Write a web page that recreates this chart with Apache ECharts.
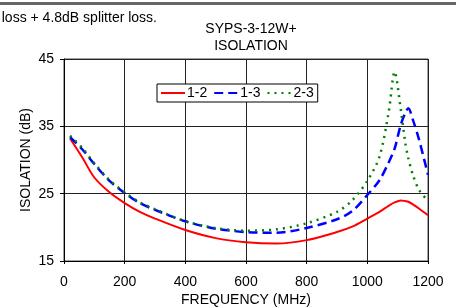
<!DOCTYPE html>
<html><head><meta charset="utf-8">
<script src="https://cdn.jsdelivr.net/npm/echarts@6/dist/echarts.min.js"></script>
<style>html,body{margin:0;padding:0;background:#fff}#c{width:456px;height:308px}</style>
</head><body><div id="c"></div>
<script>
const freqs = [20, 60, 100, 150, 200, 250, 300, 400, 500, 600, 700, 800, 900, 950, 1000, 1040, 1070, 1090, 1110, 1125, 1135, 1150, 1170, 1200];
const iso12 = [33.2, 30.4, 27.4, 25.2, 23.6, 22.3, 21.3, 19.6, 18.4, 17.8, 17.6, 18.1, 19.3, 20.1, 21.3, 22.3, 23.2, 23.7, 24.0, 23.9, 23.8, 23.4, 22.8, 21.8];
const iso13 = [33.4, 31.6, 29.4, 26.9, 25.1, 23.6, 22.6, 20.9, 19.8, 19.3, 19.2, 19.9, 21.2, 22.4, 24.8, 27.0, 29.6, 31.7, 35.2, 37.0, 37.7, 36.0, 33.1, 27.8];
const iso23 = [33.6, 31.8, 29.5, 27.0, 25.2, 23.7, 22.7, 20.9, 19.9, 19.5, 19.7, 20.6, 22.3, 24.0, 26.9, 30.5, 37.0, 43.1, 37.6, 32.6, 30.3, 27.8, 25.6, 23.9];
const seriesNames = ['1-2', '1-3', '2-3'];
const xTicks = [0, 200, 400, 600, 800, 1000, 1200];
const yTicks = [15, 25, 35, 45];

const pair = v => freqs.map((f, i) => [f, v[i]]);
const FONT = 'Liberation Sans, Arial, sans-serif';
const FS = 14;
const chart = echarts.init(document.getElementById('c'), null, {renderer: 'canvas'});
chart.setOption({
  animation: false,
  backgroundColor: '#fff',
  textStyle: {fontFamily: FONT},
  title: {
    text: 'SYPS-3-12W+\nISOLATION',
    left: 246, textAlign: 'center', top: 16,
    textStyle: {fontSize: FS, fontWeight: 'normal', color: '#000', lineHeight: 17, fontFamily: FONT}
  },
  graphic: [
    {type: 'rect', shape: {x: 0, y: 2, width: 456, height: 3}, style: {fill: '#666'}},
    {type: 'text', style: {text: 'loss + 4.8dB splitter loss.', x: 157, y: 18, align: 'right', verticalAlign: 'middle', font: FS + 'px ' + FONT, fill: '#000'}}
  ],
  legend: {
    left: 157, top: 84,
    padding: [2, 4, 2, 3],
    itemGap: 6, itemWidth: 24, itemHeight: 14,
    borderColor: '#000', borderWidth: 1, backgroundColor: '#fff',
    itemStyle: {opacity: 0},
    textStyle: {fontSize: FS, color: '#000', fontFamily: FONT, padding: [0, 0, 0, -3]},
    data: seriesNames
  },
  grid: {left: 64, right: 28, top: 59, bottom: 47, show: true, borderColor: '#444', borderWidth: 1, outerBoundsMode: 'none', containLabel: false},
  xAxis: {
    type: 'value', min: 0, max: 1200, interval: 200,
    name: 'FREQUENCY (MHz)', nameLocation: 'middle', nameGap: 32, nameMoveOverlap: false,
    nameTextStyle: {fontSize: FS, color: '#000', fontFamily: FONT},
    axisLine: {lineStyle: {color: '#000'}},
    axisTick: {show: true, length: 3, lineStyle: {color: '#000'}},
    axisLabel: {fontSize: FS, color: '#000', margin: 14, fontFamily: FONT, formatter: v => String(v)},
    splitLine: {show: true, lineStyle: {color: '#222', width: 1}}
  },
  yAxis: {
    type: 'value', min: 15, max: 45, interval: 10,
    name: 'ISOLATION (dB)', nameLocation: 'middle', nameGap: 31, nameMoveOverlap: false,
    nameTextStyle: {fontSize: FS, color: '#000', fontFamily: FONT},
    axisLine: {show: true, lineStyle: {color: '#000'}},
    axisTick: {show: true, length: 4, lineStyle: {color: '#000'}},
    axisLabel: {fontSize: FS, color: '#000', margin: 10, fontFamily: FONT},
    splitLine: {show: true, lineStyle: {color: '#222', width: 1}}
  },
  series: [
    {name: seriesNames[0], type: 'line', data: pair(iso12), smooth: 0.3, symbol: 'none', lineStyle: {color: '#ff0000', width: 2, type: 'solid'}, itemStyle: {color: '#ff0000'}},
    {name: seriesNames[1], type: 'line', data: pair(iso13), smooth: 0.3, symbol: 'none', lineStyle: {color: '#0000ff', width: 2.5, type: [9, 5]}, itemStyle: {color: '#0000ff'}},
    {name: seriesNames[2], type: 'line', data: pair(iso23), smooth: 0.3, symbol: 'none', lineStyle: {color: '#008000', width: 2.5, type: [2, 5]}, itemStyle: {color: '#008000'}}
  ]
});
</script></body></html>
